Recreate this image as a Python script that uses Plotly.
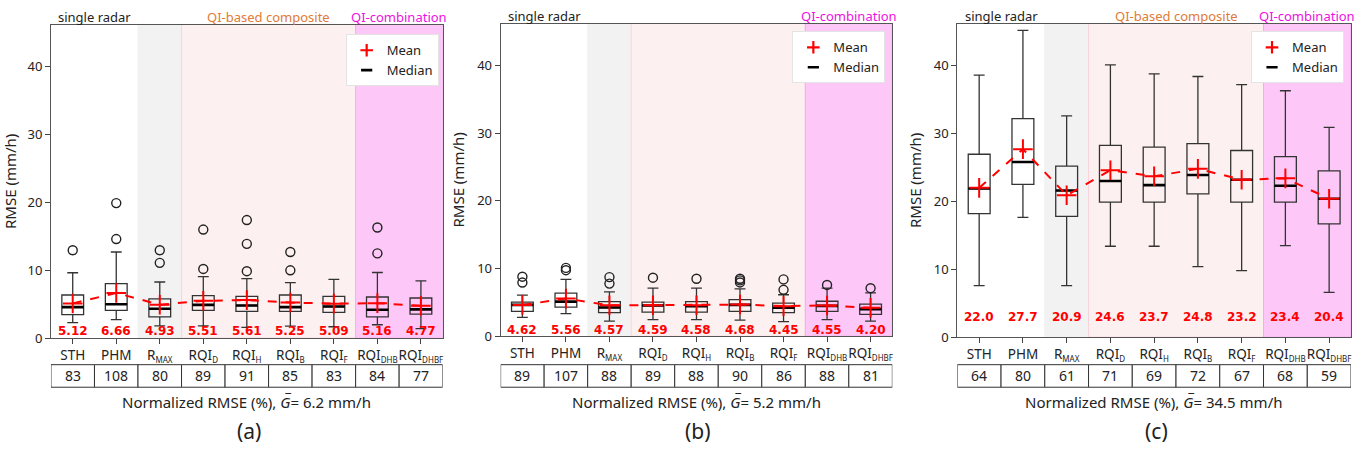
import plotly.graph_objects as go

W, H = 1365, 457

SUB = '<sub><span style="font-size:8px">{}</span></sub>'
categories = ['STH', 'PHM', 'R' + SUB.format('MAX'), 'RQI' + SUB.format('D'), 'RQI' + SUB.format('H'),
              'RQI' + SUB.format('B'), 'RQI' + SUB.format('F'), 'RQI' + SUB.format('DHB'),
              'RQI' + SUB.format('DHBF')]

# ---- panel (a)
a_q1 = [3.47, 4.10, 3.13, 4.10, 3.95, 3.95, 3.80, 3.13, 3.56]
a_med = [4.58, 5.00, 4.34, 4.91, 4.82, 4.58, 4.67, 4.19, 4.24]
a_q3 = [6.36, 8.05, 5.78, 6.26, 6.17, 6.36, 6.17, 6.07, 5.92]
a_lo = [2.30, 2.75, 1.83, 1.83, 1.60, 1.78, 1.69, 1.98, 1.40]
a_hi = [9.64, 12.70, 8.28, 9.06, 8.77, 8.19, 8.67, 9.68, 8.43]
a_mean = [5.12, 6.66, 4.93, 5.51, 5.61, 5.25, 5.09, 5.16, 4.77]
a_out = [[12.96], [14.6, 19.9], [11.1, 12.96], [10.2, 16.0], [9.87, 13.9, 17.4],
         [10.0, 12.7], [], [12.5, 16.3], []]
a_nrmse = [83, 108, 80, 89, 91, 85, 83, 84, 77]
a_gbar = 6.2

# ---- panel (b)
b_q1 = [3.67, 4.30, 3.48, 3.57, 3.57, 3.67, 3.48, 3.67, 3.23]
b_med = [4.64, 5.12, 4.25, 4.54, 4.44, 4.64, 4.20, 4.49, 4.01]
b_q3 = [5.03, 6.38, 5.12, 5.03, 5.12, 5.41, 4.88, 5.17, 4.74]
b_lo = [2.80, 3.33, 2.22, 2.46, 2.46, 2.37, 2.17, 2.46, 2.22]
b_hi = [6.09, 8.40, 6.57, 7.10, 7.10, 7.00, 6.13, 7.10, 6.42]
b_mean = [4.62, 5.56, 4.57, 4.59, 4.58, 4.68, 4.45, 4.55, 4.20]
b_out = [[7.93, 8.8], [9.76, 10.1], [7.78, 8.74], [8.65], [8.5],
         [7.95, 8.25, 8.5], [6.86, 8.4], [7.58], [7.1]]
b_nrmse = [89, 107, 88, 89, 88, 90, 86, 88, 81]
b_gbar = 5.2

# ---- panel (c)
c_q1 = [18.2, 22.5, 17.8, 19.9, 19.9, 21.1, 19.9, 19.9, 16.7]
c_med = [21.9, 25.8, 21.6, 23.0, 22.4, 23.9, 23.2, 22.3, 20.4]
c_q3 = [26.95, 32.2, 25.2, 28.25, 28.0, 28.5, 27.5, 26.6, 24.5]
c_lo = [7.6, 17.65, 7.6, 13.4, 13.4, 10.4, 9.8, 13.5, 6.6]
c_hi = [38.6, 45.2, 32.6, 40.1, 38.8, 38.4, 37.2, 36.3, 30.9]
c_mean = [22.0, 27.7, 20.9, 24.6, 23.7, 24.8, 23.2, 23.4, 20.4]
c_out = [[], [], [], [], [], [], [], [], []]
c_nrmse = [64, 80, 61, 71, 69, 72, 67, 68, 59]
c_gbar = 34.5

panels = [
    dict(tag='a', q1=a_q1, med=a_med, q3=a_q3, lo=a_lo, hi=a_hi, mean=a_mean, out=a_out,
         nrmse=a_nrmse, gbar=a_gbar, fmt='{:.2f}', px=(51, 443, 25, 345), label_y=1.0,
         titles=True, legend_px=(439, 35)),
    dict(tag='b', q1=b_q1, med=b_med, q3=b_q3, lo=b_lo, hi=b_hi, mean=b_mean, out=b_out,
         nrmse=b_nrmse, gbar=b_gbar, fmt='{:.2f}', px=(501, 893, 24, 343), label_y=0.9,
         titles=False, legend_px=(886, 32)),
    dict(tag='c', q1=c_q1, med=c_med, q3=c_q3, lo=c_lo, hi=c_hi, mean=c_mean, out=c_out,
         nrmse=c_nrmse, gbar=c_gbar, fmt='{:.1f}', px=(958, 1352, 24, 344), label_y=3.0,
         titles=True, legend_px=(1345, 32)),
]

positions = list(range(1, len(categories) + 1))
BOXW = 0.5
FONT = 'Noto Sans'

fig = go.Figure()
shapes = []
annotations = []
layout = {}

for k, p in enumerate(panels):
    sfx = '' if k == 0 else str(k + 1)
    xa, ya = 'x' + sfx, 'y' + sfx
    lg = 'legend' + sfx
    x0p, x1p, y0p, y1p = p['px']

    # bands
    bands = [(0.5, 2.5, 'rgba(255,255,255,0)', 'rgba(0,0,0,0)'),
             (2.5, 3.5, '#F2F2F2', '#F2F2F2'),
             (3.5, 7.5, '#FDF0F0', '#F9D4DA'),
             (7.5, 9.5, '#FDC8F8', '#F7A8F0')]
    for bx0, bx1, fc, lc in bands:
        shapes.append(dict(type='rect', xref=xa, yref=ya + ' domain', x0=bx0, x1=bx1, y0=0, y1=1,
                           fillcolor=fc, line=dict(color=lc, width=1), layer='below'))

    # boxes
    fig.add_trace(go.Box(x=positions, q1=p['q1'], median=p['med'], q3=p['q3'],
                         lowerfence=p['lo'], upperfence=p['hi'], boxpoints=False,
                         width=BOXW, whiskerwidth=0.5, fillcolor='rgba(0,0,0,0)',
                         line=dict(color='#333333', width=1.3), xaxis=xa, yaxis=ya,
                         showlegend=False, hoverinfo='skip'))
    # medians (thicker black)
    mx, my = [], []
    for pos, m in zip(positions, p['med']):
        mx += [pos - BOXW / 2, pos + BOXW / 2, None]
        my += [m, m, None]
    fig.add_trace(go.Scatter(x=mx, y=my, mode='lines', line=dict(color='black', width=2.6),
                             xaxis=xa, yaxis=ya, showlegend=False, hoverinfo='skip'))
    # outliers
    ox, oy = [], []
    for pos, outs in zip(positions, p['out']):
        for o in outs:
            ox.append(pos)
            oy.append(o)
    if ox:
        fig.add_trace(go.Scatter(x=ox, y=oy, mode='markers',
                                 marker=dict(symbol='circle-open', size=9, color='#222222',
                                             line=dict(width=1.4)),
                                 xaxis=xa, yaxis=ya, showlegend=False, hoverinfo='skip'))
    # mean line
    fig.add_trace(go.Scatter(x=positions, y=p['mean'], mode='lines+markers',
                             line=dict(color='red', width=2, dash='dash'),
                             marker=dict(symbol='cross-thin', size=14, color='red',
                                         line=dict(color='red', width=2)),
                             xaxis=xa, yaxis=ya, showlegend=False, hoverinfo='skip'))
    # legend entries
    fig.add_trace(go.Scatter(x=[None], y=[None], mode='markers', name='Mean',
                             marker=dict(symbol='cross-thin', size=9, color='red',
                                         line=dict(color='red', width=2.2)),
                             xaxis=xa, yaxis=ya, legend=lg, showlegend=True))
    fig.add_trace(go.Scatter(x=[None], y=[None], mode='markers', name='Median',
                             marker=dict(symbol='line-ew', size=8, color='black',
                                         line=dict(color='black', width=2.6)),
                             xaxis=xa, yaxis=ya, legend=lg, showlegend=True))

    layout[lg] = dict(x=p['legend_px'][0] / W, y=1 - p['legend_px'][1] / H,
                      xanchor='right', yanchor='top', bgcolor='white',
                      bordercolor='#E4E4E4', borderwidth=1, itemwidth=30,
                      font=dict(family=FONT, size=13, color='#222'),
                      tracegroupgap=0)

    axis_common = dict(showline=True, mirror=True, linecolor='#555555', linewidth=1,
                       showgrid=False, zeroline=False, ticks='outside', ticklen=5,
                       tickcolor='#444', tickfont=dict(family=FONT, size=13, color='#222'))
    layout['xaxis' + sfx] = dict(axis_common, domain=[x0p / W, x1p / W], anchor=ya,
                                 range=[0.5, 9.5], tickmode='array', tickvals=positions,
                                 ticktext=categories, tickangle=0, ticklabelstandoff=0,
                                 tickfont=dict(family=FONT, size=13.5, color='#222'))
    layout['yaxis' + sfx] = dict(axis_common, domain=[1 - y1p / H, 1 - y0p / H], anchor=xa,
                                 range=[0, 46.2], tickvals=[0, 10, 20, 30, 40],
                                 title=dict(text='RMSE (mm/h)', standoff=8,
                                            font=dict(family=FONT, size=15, color='#222')))

    hpx = y1p - y0p

    def yd(py):
        return (y1p - py) / hpx

    # mean value labels
    for pos, m in zip(positions, p['mean']):
        annotations.append(dict(x=pos, y=p['label_y'], xref=xa, yref=ya, text=p['fmt'].format(m),
                                showarrow=False, yanchor='middle',
                                font=dict(family='DejaVu Sans', size=12, color='red', weight='bold')))

    # table below
    for pos, v in zip(positions, p['nrmse']):
        shapes.append(dict(type='rect', xref=xa, yref=ya + ' domain', x0=pos - 0.5, x1=pos + 0.5,
                           y0=yd(395), y1=yd(372), line=dict(color='#333333', width=1),
                           fillcolor='white'))
        annotations.append(dict(x=pos, y=yd(383.5), xref=xa, yref=ya + ' domain', text=str(v),
                                showarrow=False, yanchor='middle',
                                font=dict(family=FONT, size=14, color='#222')))
    annotations.append(dict(x=0.5, y=yd(410), xref=xa + ' domain', yref=ya + ' domain',
                            text='Normalized RMSE (%), <i>G\u0305</i>= {} mm/h'.format(p['gbar']),
                            showarrow=False, yanchor='middle',
                            font=dict(family=FONT, size=15, color='#222')))
    annotations.append(dict(x=0.505, y=yd(440), xref=xa + ' domain', yref=ya + ' domain',
                            text='({})'.format(p['tag']), showarrow=False, yanchor='middle',
                            font=dict(family=FONT, size=21, color='#222')))

    # group titles
    ty = yd(y0p - 8)
    annotations.append(dict(x=1.5, y=ty, xref=xa, yref=ya + ' domain', text='single radar',
                            showarrow=False, yanchor='middle',
                            font=dict(family=FONT, size=13, color='#222')))
    if p['titles']:
        annotations.append(dict(x=5.5, y=ty, xref=xa, yref=ya + ' domain', text='QI-based composite',
                                showarrow=False, yanchor='middle',
                                font=dict(family=FONT, size=13, color='#E07B39')))
    annotations.append(dict(x=8.5, y=ty, xref=xa, yref=ya + ' domain', text='QI-combination',
                            showarrow=False, yanchor='middle',
                            font=dict(family=FONT, size=13, color='#F010E0')))

fig.update_layout(width=W, height=H, margin=dict(l=0, r=0, t=0, b=0),
                  paper_bgcolor='white', plot_bgcolor='white',
                  shapes=shapes, annotations=annotations, **layout)

fig.write_html('out.html')
